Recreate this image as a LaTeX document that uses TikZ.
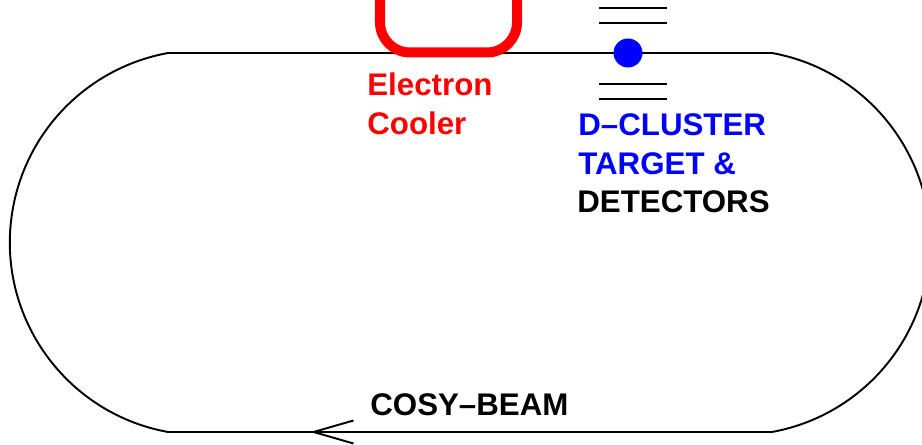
\documentclass[tikz,border=0pt]{standalone}
\usepackage{fontspec}
\setmainfont{Liberation Sans}
\usetikzlibrary{arrows.meta}
\definecolor{CoolerRed}{HTML}{FF0000}
\definecolor{TargetBlue}{HTML}{0000FF}
\tikzset{
  ring/.style={black,line width=1.1pt,line join=miter},
  beamdir/.style={-{Straight Barb[length=8mm,width=4.6mm]},black,line width=1.1pt},
  coolerpipe/.style={CoolerRed,line width=5.7pt,rounded corners=6mm},
  foil/.style={black,line width=1.1pt},
  tag/.style={font=\fontsize{17.8}{22.4}\selectfont\bfseries,inner sep=0pt,align=left},
}

\begin{document}
\begin{tikzpicture}[x=0.02cm,y=0.02cm]
    % ring with cooler section and target section
    \useasboundingbox (0,0) rectangle (922,445);
    \clip (0,0) rectangle (922,445);

    \coordinate (tl) at (168,392);
    \coordinate (tr) at (772,392);
    \coordinate (bl) at (168,13);
    \draw[ring] (tl) -- (tr) arc[start angle=79.7,end angle=-79.7,radius=192.6]
      -- (bl) arc[start angle=259.7,end angle=100.3,radius=192.6] -- cycle;

    \coordinate (beamtail) at (352,13);
    \coordinate (beamtip) at (310,13);
    \draw[beamdir] (beamtail) -- (beamtip);
    \node[tag,anchor=base west] (beamlabel) at (370,29) {COSY--BEAM};

    \draw[coolerpipe] (380,470) -- (380,392.5) -- (517,392.5) -- (517,470);
    \node[tag,anchor=north west,text=CoolerRed] (coolerlabel) at (367,373) {Electron\\Cooler};

    \foreach \fy in {437,422,361,346}
      \draw[foil] (599,\fy) -- (667,\fy);
    \node[circle,fill=TargetBlue,minimum size=0.58cm,inner sep=0pt] (target) at (628,392) {};
    \node[tag,anchor=north west,text=TargetBlue] (targetlabel) at (578,332) {D--CLUSTER\\TARGET \&};
    \node[tag,anchor=base west] (detlabel) at (577,232) {DETECTORS};
  \end{tikzpicture}
\end{document}
